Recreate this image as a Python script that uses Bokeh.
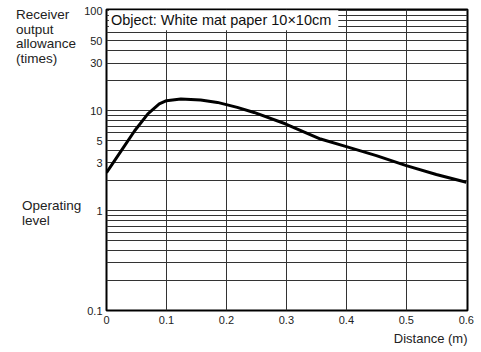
from bokeh.plotting import figure
from bokeh.models import FixedTicker, Label, Title, Range1d, Div
from bokeh.layouts import row
from bokeh.embed import file_html
from bokeh.resources import INLINE

# data
distance = [0, 0.025, 0.047, 0.069, 0.088, 0.1, 0.124, 0.157, 0.185, 0.218,
            0.246, 0.298, 0.357, 0.4, 0.45, 0.5, 0.55, 0.6]
allowance = [2.4, 4.0, 6.3, 9.3, 11.7, 12.6, 13.1, 12.8, 12.1, 10.8,
             9.6, 7.4, 5.2, 4.37, 3.55, 2.82, 2.3, 1.92]
x_ticks = [0, 0.1, 0.2, 0.3, 0.4, 0.5, 0.6]
x_tick_labels = ["0", "0.1", "0.2", "0.3", "0.4", "0.5", "0.6"]
y_ticks = [0.1, 1, 3, 5, 10, 30, 50, 100]
y_tick_labels = ["0.1", "1", "3", "5", "10", "30", "50", "100"]
v_grid = [0.1, 0.2, 0.3, 0.4, 0.5]
h_grid = [m * 10.0 ** e for e in (-1, 0, 1) for m in range(1, 10)] + [100]
y_title = ["Receiver", "output", "allowance", "(times)"]
level_title = ["Operating", "level"]

FONT = "Liberation Sans"
DIV_W = 81

p = figure(width=475 - DIV_W, height=350, y_axis_type="log",
           x_range=Range1d(0, 0.602), y_range=Range1d(0.1, 103),
           output_backend="svg", toolbar_location=None,
           min_border_left=105 - DIV_W, min_border_right=8, min_border_top=9,
           min_border_bottom=40)

p.outline_line_color = "black"
p.outline_line_width = 2
p.background_fill_color = "white"
p.border_fill_alpha = 0

# grids
p.xgrid.ticker = FixedTicker(ticks=v_grid)
p.ygrid.ticker = FixedTicker(ticks=h_grid)
for g in (p.xgrid, p.ygrid):
    g.grid_line_color = "#333333"
    g.grid_line_width = 1
    g.grid_line_alpha = 1.0

# axes
p.xaxis.ticker = FixedTicker(ticks=x_ticks)
p.xaxis.major_label_overrides = {t: s for t, s in zip(x_ticks, x_tick_labels)}
p.yaxis.ticker = FixedTicker(ticks=y_ticks)
p.yaxis.major_label_overrides = {t: s for t, s in zip(y_ticks, y_tick_labels)}
for ax in (p.xaxis, p.yaxis):
    ax.axis_line_color = None
    ax.major_tick_line_color = None
    ax.minor_tick_line_color = None
    ax.major_tick_out = 0
    ax.major_tick_in = 0
    ax.minor_tick_out = 0
    ax.minor_tick_in = 0
    ax.major_label_text_font = FONT
    ax.major_label_text_color = "#222222"
    ax.major_label_text_font_size = "11px"
p.xaxis.major_label_standoff = 5
p.yaxis.major_label_standoff = 4

# curve
p.line(distance, allowance, line_color="black", line_width=3, line_join="round")

# object note box
p.add_layout(Label(x=0.004, y=10 ** 1.905, text="Object: White mat paper 10×10cm",
                   text_font=FONT, text_font_size="14.5px", text_color="#111111",
                   text_baseline="middle", background_fill_color="white",
                   background_fill_alpha=1.0, border_line_color=None,
                   padding=(2, 7, 2, 2)))

p.add_layout(Title(text="Distance (m)", align="right", text_font=FONT,
                   text_font_size="13px", text_font_style="normal",
                   text_color="#222222", standoff=4), "below")

# left side texts
txt_style = ("position:absolute;font-family:'Liberation Sans';font-size:13.5px;"
             "line-height:14.5px;color:#222222;white-space:nowrap;")
html = ('<div style="position:relative;width:%dpx;height:350px;">' % DIV_W
        + '<div style="%sleft:16px;top:8px;">%s</div>' % (txt_style, "<br>".join(y_title))
        + '<div style="%sleft:22px;top:199px;">%s</div>' % (txt_style, "<br>".join(level_title))
        + '</div>')
div = Div(text=html, width=DIV_W, height=350, margin=0,
          styles={"overflow": "visible", "z-index": "2"})

layout = row(div, p, spacing=0)
open("out.html", "w").write(file_html(layout, INLINE))
